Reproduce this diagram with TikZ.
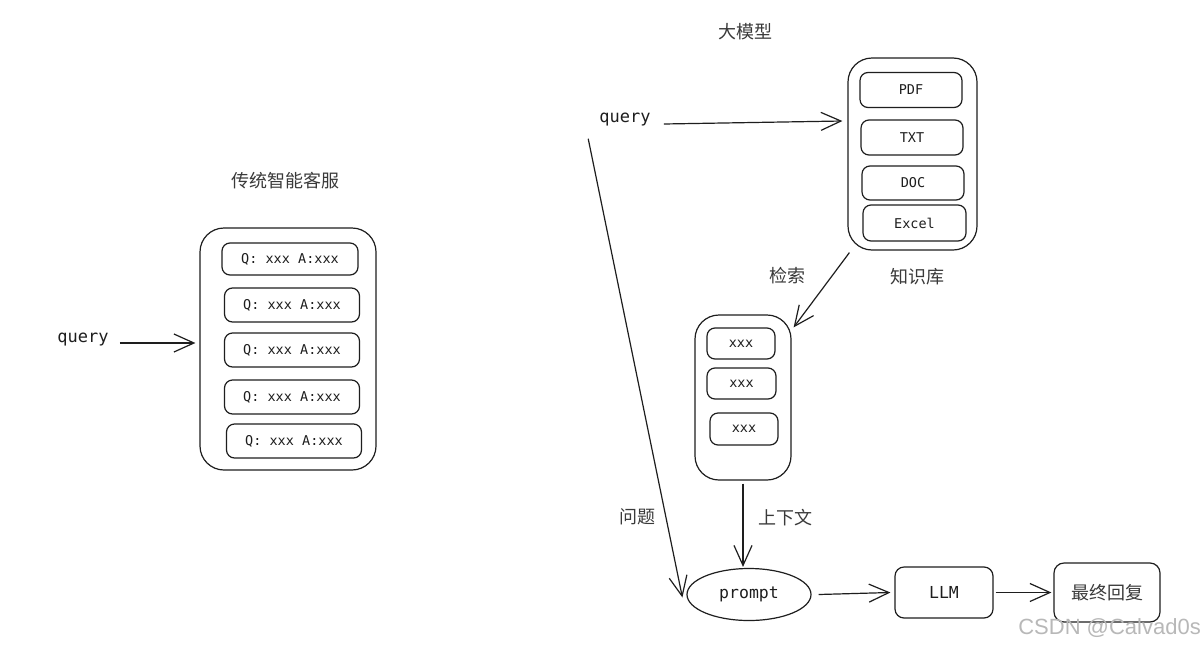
\documentclass[tikz,border=0pt]{standalone}
\usepackage{fontspec}
\setmonofont{DejaVu Sans Mono}
\newfontfamily\cjk{Noto Sans CJK SC}
\newfontfamily\wmfont{Liberation Sans}
\usetikzlibrary{arrows.meta,shapes.geometric}
\definecolor{inkc}{HTML}{1E1E1E}
\definecolor{labelc}{HTML}{3A3A3A}
\definecolor{markc}{HTML}{B8B8B8}
\tikzset{
  ink/.style={draw=inkc, line width=1.2pt},
  outerbox/.style={ink, rounded corners=24pt, inner sep=0pt},
  itembox/.style={ink, rounded corners=8pt, inner sep=0pt, text=inkc,
    font=\ttfamily\fontsize{13.5}{16}\selectfont},
  monolabel/.style={text=inkc, inner sep=1pt, font=\ttfamily\fontsize{17}{20}\selectfont},
  cjklabel/.style={text=labelc, inner sep=1pt, font=\cjk\fontsize{18}{21}\selectfont},
  conn/.style={ink, -{Straight Barb[length=20pt,width=18pt,line width=1.2pt]}},
}
\begin{document}
\begin{tikzpicture}[x=1pt,y=-1pt]
\useasboundingbox[fill=white] (0,0) rectangle (1204,648);

% ---------- traditional customer service ----------
\node[cjklabel] (titleA) at (285,181) {传统智能客服};
\node[outerbox, minimum width=176pt, minimum height=242pt] (faq) at (288,349) {};
\node[itembox, minimum width=136pt, minimum height=32pt] (qa1) at (290,259) {Q: xxx A:xxx};
\node[itembox, minimum width=135pt, minimum height=34pt] (qa2) at (292,305) {Q: xxx A:xxx};
\node[itembox, minimum width=135pt, minimum height=34pt] (qa3) at (292,350) {Q: xxx A:xxx};
\node[itembox, minimum width=135pt, minimum height=34pt] (qa4) at (292,397) {Q: xxx A:xxx};
\node[itembox, minimum width=135pt, minimum height=34pt] (qa5) at (294,441) {Q: xxx A:xxx};
\node[monolabel] (queryA) at (83,340) {query};
\draw[conn] ([xshift=10pt,yshift=-3pt]queryA.east) -- ([xshift=-4pt]faq.west |- 0,343);

% ---------- large model pipeline ----------
\node[cjklabel] (titleB) at (745,32) {大模型};
\node[monolabel] (queryB) at (625,120) {query};

% knowledge base
\node[outerbox, minimum width=129pt, minimum height=192pt] (kb) at (912.5,154) {};
\node[itembox, minimum width=102pt, minimum height=35pt] (pdf) at (911,90) {PDF};
\node[itembox, minimum width=102pt, minimum height=35pt] (txt) at (912,137.5) {TXT};
\node[itembox, minimum width=102pt, minimum height=34pt] (doc) at (913,183) {DOC};
\node[itembox, minimum width=103pt, minimum height=36pt] (xls) at (914.5,223) {Excel};
\node[cjklabel] (kbname) at (917,277) {知识库};

% retrieved chunks
\node[outerbox, minimum width=96pt, minimum height=165pt] (ret) at (743,397.5) {};
\node[itembox, minimum width=68pt, minimum height=31pt] (c1) at (741,343.5) {xxx};
\node[itembox, minimum width=69pt, minimum height=31pt] (c2) at (741.5,383.5) {xxx};
\node[itembox, minimum width=68pt, minimum height=32pt] (c3) at (744,429) {xxx};

% prompt, model and answer
\node[ink, ellipse, minimum width=124pt, minimum height=52pt, inner sep=0pt,
      text=inkc, font=\ttfamily\fontsize{16.5}{20}\selectfont] (prompt) at (749,594.5) {prompt};
\node[ink, rounded corners=9pt, minimum width=98pt, minimum height=51pt, inner sep=0pt,
      text=inkc, font=\ttfamily\fontsize{16.5}{20}\selectfont] (llm) at (944,592.5) {LLM};
\node[ink, rounded corners=10pt, minimum width=106pt, minimum height=59pt, inner sep=0pt,
      text=labelc, font=\cjk\fontsize{18}{21}\selectfont] (answer) at (1107,592.5) {最终回复};

% labels on connectors
\node[cjklabel] (lblsearch) at (787,276) {检索};
\node[cjklabel] (lblctx) at (785,518) {上下文};
\node[cjklabel] (lblq) at (637,517) {问题};

% connectors
\draw[conn] ([xshift=12pt,yshift=-4pt]queryB.east) -- ([xshift=-5pt]kb.west |- 0,121);
\draw[conn] ([xshift=2pt,yshift=-2pt]kb.south west) -- ([xshift=2pt,yshift=-13pt]ret.north east);
\draw[conn] ([yshift=-3pt]ret.south) -- ([yshift=1pt]ret.south |- prompt.north);
\draw[conn] ([xshift=-10pt,yshift=-11pt]queryB.south west) -- ([xshift=-4pt,yshift=-3pt]prompt.west);
\draw[conn] ([xshift=7pt]prompt.east) -- ([xshift=-4pt]llm.west);
\draw[conn] ([xshift=2pt]llm.east) -- ([xshift=-2pt]answer.west);

% watermark
\node[anchor=east, text=markc, inner sep=0pt, font=\wmfont\fontsize{22}{24}\selectfont] (mark) at (1201,628) {CSDN @Calvad0s};
\end{tikzpicture}
\end{document}
